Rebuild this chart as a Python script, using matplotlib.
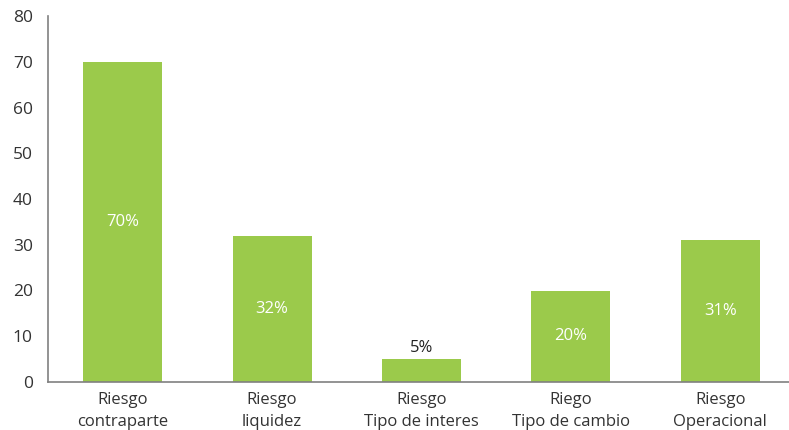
import matplotlib
matplotlib.use("Agg")
import matplotlib.pyplot as plt

categories = ["Riesgo\ncontraparte", "Riesgo\nliquidez", "Riesgo\nTipo de interes",
              "Riego\nTipo de cambio", "Riesgo\nOperacional"]
values = [70, 32, 5, 20, 31]
labels = ["70%", "32%", "5%", "20%", "31%"]
yticks = [0, 10, 20, 30, 40, 50, 60, 70, 80]

plt.rcParams['font.family'] = ['Open Sans', 'DejaVu Sans']
fig = plt.figure(figsize=(7.89, 4.30), dpi=100)
ax = fig.add_axes([48/789, 48/430, 1 - 48/789, (382-16)/430])

green = "#9BCA4B"
x = list(range(len(values)))
bars = ax.bar(x, values, width=0.53, color=green)
for xi, v, lab in zip(x, values, labels):
    if v < 10:
        ax.text(xi, v + 0.6, lab, ha="center", va="bottom", fontsize=12, color="#222222")
    else:
        ax.text(xi, v / 2, lab, ha="center", va="center", fontsize=12, color="white")

ax.set_xlim(-0.5, 4.46)
ax.set_ylim(0, 80)
ax.set_yticks(yticks)
ax.set_yticklabels([str(t) for t in yticks], fontsize=12.5, color="#333333")
ax.set_xticks(x)
ax.set_xticklabels(categories, fontsize=12, color="#333333", linespacing=1.55)
ax.tick_params(axis="both", length=0)
ax.tick_params(axis="y", pad=11)
ax.tick_params(axis="x", pad=7)
for s in ["top", "right"]:
    ax.spines[s].set_visible(False)
for s in ["left", "bottom"]:
    ax.spines[s].set_color("#808080")
    ax.spines[s].set_linewidth(1.2)

fig.savefig("out.png", dpi=100)
